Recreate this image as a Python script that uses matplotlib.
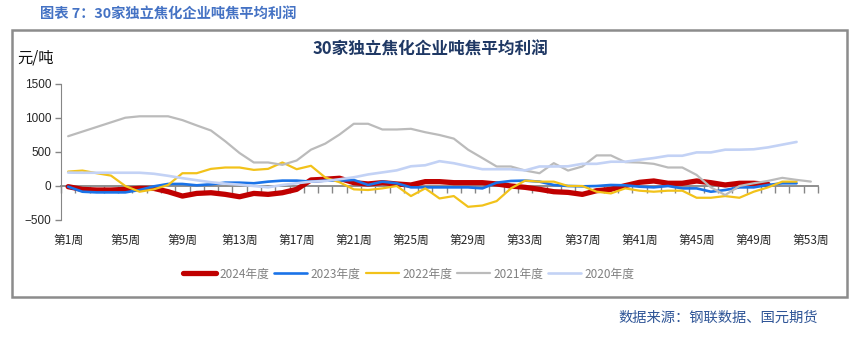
import matplotlib.pyplot as plt
import numpy as np
from matplotlib.patches import Rectangle

plt.rcParams['font.family'] = ['Noto Sans CJK SC', 'DejaVu Sans']

# 吨焦平均利润（元/吨），按周
weeks = np.arange(1, 54)
week_labels = [f'第{w}周' for w in range(1, 54, 4)]

y2024 = [-10, -50, -59, -59, -50, -35, -35, -84, -148, -109,
         -99, -123, -158, -109, -123, -99, -49, 89, 99, 114,
         49, 30, 49, 30, 15, 64, 64, 49, 49, 49,
         30, 0, -20, -49, -84, -94, -123, -69, -49, 5,
         54, 74, 40, 40, 74, 49, 15, 40, 40, 25]
y2023 = [-10, -84, -94, -94, -94, -59, -5, 30, 30, 10,
         25, 49, 49, 40, 64, 79, 79, 64, 79, 79,
         89, 15, 64, 40, -20, -20, -20, -20, -20, -35,
         49, 74, 79, 64, 15, 0, -5, 0, 15, 10,
         -10, -20, 0, -35, -35, -84, -59, -20, -20, 15,
         40, 40]
y2022 = [212, 227, 188, 153, 0, -84, -49, 15, 188, 188,
         252, 272, 272, 237, 252, 346, 247, 297, 125, 55,
         -49, -59, -35, 0, -148, -35, -183, -148, -306, -287,
         -222, -35, 79, 64, 64, 0, 0, -84, -109, -35,
         -69, -84, -69, -69, -173, -173, -148, -173, -84, -20,
         64, 64]
y2021 = [732, 800, 868, 936, 1004, 1025, 1025, 1025, 969, 891,
         816, 658, 485, 346, 346, 311, 375, 534, 623, 757,
         915, 915, 831, 831, 841, 791, 750, 697, 534, 411,
         287, 287, 227, 188, 336, 227, 287, 450, 450, 351,
         345, 326, 272, 272, 163, -20, -133, 0, 40, 75,
         120, 90, 65]
y2020 = [197, 195, 195, 195, 195, 195, 180, 150, 115, 85,
         55, 35, 20, 0, -20, 15, 40, 64, 74, 99,
         128, 170, 200, 230, 290, 305, 365, 335, 290, 247,
         247, 247, 230, 287, 287, 290, 326, 326, 357, 357,
         385, 411, 445, 445, 494, 494, 534, 534, 540, 568,
         608, 648]

series = [
    (y2024, '2024年度', '#C00000', 3.8),
    (y2023, '2023年度', '#1A73E8', 1.9),
    (y2022, '2022年度', '#F2C21A', 1.6),
    (y2021, '2021年度', '#BBBBBB', 1.6),
    (y2020, '2020年度', '#C3D2F5', 1.9),
]

W, H = 855, 337
fig = plt.figure(figsize=(W / 100, H / 100), dpi=100)

# 外框
fig.patches.append(Rectangle((12 / W, 1 - 297 / H), (847 - 12) / W, (297 - 30) / H,
                             transform=fig.transFigure, fill=False,
                             ec='#8C8C8C', lw=1.8))

ax = fig.add_axes([61 / W, 1 - 220 / H, (818 - 61) / W, (220 - 84) / H])
for vals, lab, col, lw in series:
    ax.plot(weeks[:len(vals)], vals, color=col, lw=lw, label=lab,
            solid_joinstyle='round', solid_capstyle='round')

ymin, ymax = -500, 1500
ax.set_xlim(0.5, 53.5)
ax.set_ylim(ymin, ymax)
ax.set_yticks([-500, 0, 500, 1000, 1500])
ax.set_xticks(range(1, 54, 4))
ax.set_xticklabels(week_labels)
for s in ['top', 'right', 'bottom']:
    ax.spines[s].set_visible(False)
ax.spines['left'].set_color('#868686')
ax.tick_params(axis='x', length=0, pad=10, labelsize=8.5, colors='#262626')
ax.tick_params(axis='y', length=4, width=1, color='#868686', pad=3,
               labelsize=8.5, labelcolor='#262626')
for t in ax.get_yticklabels():
    t.set_fontfamily('Liberation Sans')

# 零轴及分类刻度
zero_ax = ax.secondary_xaxis((0 - ymin) / (ymax - ymin))
zero_ax.set_xticks(np.arange(0.5, 54, 1))
zero_ax.tick_params(length=5, width=1, color='#868686', labelbottom=False)
zero_ax.spines['bottom'].set_color('#868686')
zero_ax.spines['bottom'].set_linewidth(1.3)

fig.text(40 / W, 1 - 14 / H, '图表 7：30家独立焦化企业吨焦平均利润',
         color='#4472C4', fontsize=10.3, fontweight='bold', va='center')
fig.text(430 / W, 1 - 50 / H, '30家独立焦化企业吨焦平均利润',
         color='#1F3864', fontsize=12, fontweight='bold', ha='center', va='center')
fig.text(17 / W, 1 - 58 / H, '元/吨', fontsize=11, color='#111111', va='center')
fig.text(818 / W, 1 - 318 / H, '数据来源：钢联数据、国元期货',
         color='#2F5597', fontsize=10.3, ha='right', va='center')

fig.legend(loc='center', bbox_to_anchor=(409 / W, 1 - 274 / H), ncol=5,
           frameon=False, fontsize=8.5, handlelength=2.8, handletextpad=0.3,
           columnspacing=0.4, labelcolor='#808080')

fig.savefig('out.png', dpi=100)
